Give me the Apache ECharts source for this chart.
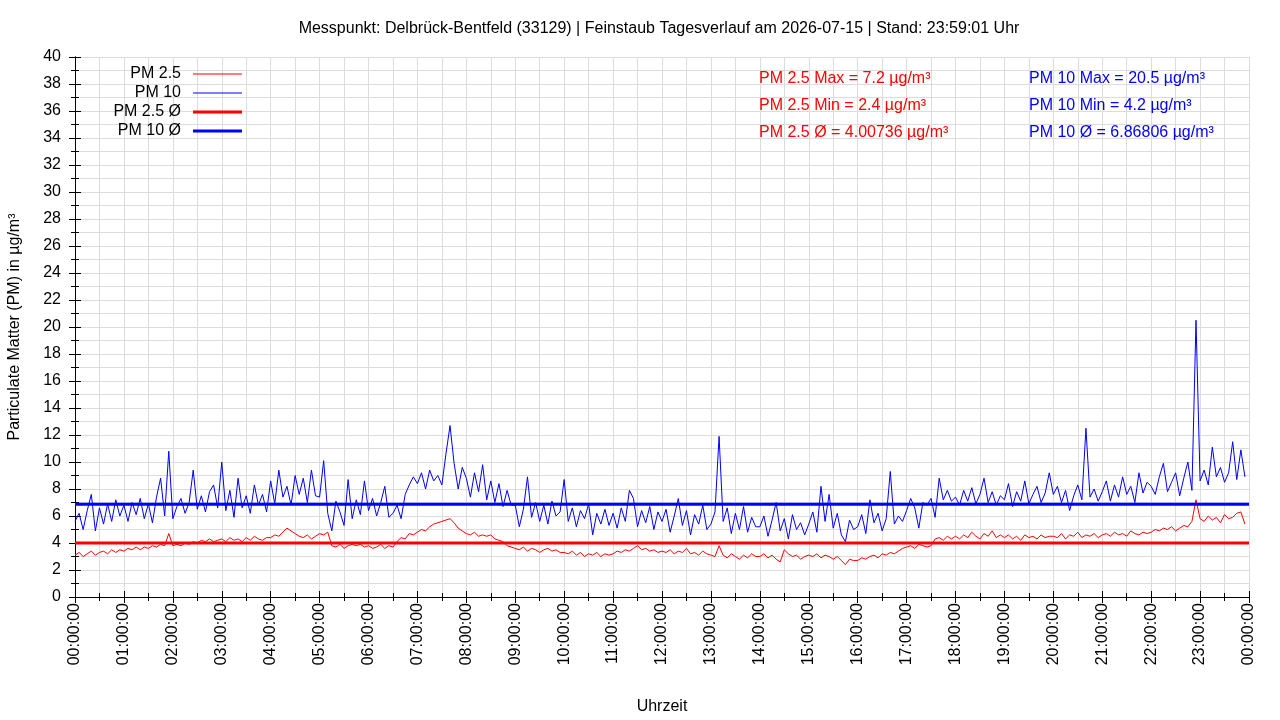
<!DOCTYPE html>
<html lang="de" style="height: 100%">
<head>
    <meta charset="UTF-8" />
    <title>Feinstaub Tagesverlauf</title>
    <style>
        html, body { margin: 0; padding: 0; background: #fff; }
        #container { width: 1280px; height: 720px; }
    </style>
</head>
<body>
    <div id="container"></div>
    <script src="https://cdn.jsdelivr.net/npm/echarts@6/dist/echarts.min.js"></script>
    <script type="text/javascript">
        // Messwerte im 5-Minuten-Raster, eine Zeile pro Stunde (00:00 ... 23:55)
        var pm25 = [
            3.1, 3.3, 3.0, 3.2, 3.4, 3.1, 3.3, 3.4, 3.2, 3.5, 3.3, 3.5,
            3.4, 3.6, 3.5, 3.7, 3.5, 3.7, 3.6, 3.8, 3.7, 3.9, 3.8, 4.7,
            3.8, 3.9, 3.8, 4.0, 3.9, 4.1, 4.0, 4.2, 4.1, 4.3, 4.1, 4.2,
            4.3, 4.1, 4.4, 4.2, 4.3, 4.1, 4.4, 4.2, 4.5, 4.3, 4.2, 4.4,
            4.4, 4.6, 4.5, 4.8, 5.1, 4.9, 4.7, 4.5, 4.4, 4.6, 4.3, 4.5,
            4.7, 4.6, 4.8, 3.8, 3.7, 3.9, 3.6, 3.8, 3.9, 3.8, 3.9, 3.7,
            3.8, 3.6, 3.7, 3.9, 3.6, 3.8, 3.7, 4.1, 4.4, 4.3, 4.7, 4.6,
            4.8, 5.0, 4.9, 5.2, 5.4, 5.5, 5.6, 5.7, 5.8, 5.5, 5.1, 4.9,
            4.7, 4.6, 4.8, 4.5, 4.6, 4.5, 4.6, 4.3, 4.2, 4.1, 3.8, 3.7,
            3.6, 3.5, 3.7, 3.4, 3.6, 3.5, 3.3, 3.5, 3.6, 3.4, 3.5, 3.3,
            3.3, 3.2, 3.4, 3.1, 3.3, 3.0, 3.2, 3.1, 3.3, 3.0, 3.2, 3.1,
            3.2, 3.4, 3.3, 3.5, 3.4, 3.6, 3.8, 3.5, 3.6, 3.4, 3.5, 3.3,
            3.4, 3.3, 3.5, 3.2, 3.4, 3.3, 3.6, 3.2, 3.3, 3.1, 3.4, 3.2,
            3.1, 3.0, 3.8, 3.1, 2.9, 3.2, 3.0, 2.8, 3.1, 2.9, 3.2, 3.0,
            3.0, 3.2, 2.9, 3.1, 2.8, 2.6, 3.5, 3.2, 3.0, 3.1, 2.8, 3.0,
            3.1, 3.0, 3.2, 2.9, 3.1, 3.0, 2.8, 3.0, 2.7, 2.4, 2.8, 2.7,
            2.7, 2.9, 2.8, 3.0, 3.1, 2.9, 3.2, 3.1, 3.3, 3.2, 3.4, 3.6,
            3.7, 3.8, 3.6, 3.9, 3.8, 3.7, 3.8, 4.3, 4.4, 4.2, 4.5, 4.3,
            4.5, 4.3, 4.6, 4.4, 4.8, 4.5, 4.3, 4.7, 4.5, 4.9, 4.4, 4.6,
            4.4, 4.6, 4.3, 4.5, 4.2, 4.6, 4.4, 4.5, 4.3, 4.6, 4.4, 4.5,
            4.5, 4.4, 4.7, 4.3, 4.6, 4.5, 4.8, 4.4, 4.6, 4.5, 4.7, 4.4,
            4.6, 4.7, 4.5, 4.8, 4.6, 4.7, 4.5, 4.9, 4.7, 4.6, 4.8, 4.7,
            4.8, 5.0, 4.9, 5.1, 5.0, 5.2, 4.9, 5.1, 5.3, 5.2, 5.6, 7.2,
            5.8, 5.6, 6.0, 5.7, 5.9, 5.5, 6.1, 5.8, 5.9, 6.2, 6.3, 5.4
        ];
        var pm10 = [
            5.6, 6.2, 5.0, 6.4, 7.6, 4.9, 6.6, 5.4, 6.9, 5.6, 7.2, 6.0,
            6.8, 5.6, 7.0, 6.1, 7.3, 5.8, 6.9, 5.5, 7.4, 8.8, 6.0, 10.8,
            5.8, 6.7, 7.3, 6.2, 7.0, 9.4, 6.5, 7.5, 6.3, 7.8, 8.3, 6.6,
            10.0, 6.4, 7.9, 5.9, 8.8, 6.6, 7.5, 6.2, 8.3, 6.8, 7.6, 6.3,
            8.6, 6.9, 9.4, 7.4, 8.2, 6.8, 9.0, 7.6, 8.8, 7.0, 9.4, 7.5,
            7.4, 10.1, 6.2, 4.9, 7.1, 6.3, 5.3, 8.7, 5.8, 7.2, 6.1, 8.6,
            6.4, 7.3, 6.0, 7.0, 8.2, 5.9, 6.2, 6.8, 5.8, 7.6, 8.3, 8.9,
            8.4, 9.2, 8.0, 9.4, 8.6, 9.0, 8.3, 10.6, 12.7, 9.9, 8.0, 9.6,
            8.8, 7.4, 9.2, 7.8, 9.8, 7.2, 8.6, 7.0, 8.4, 6.7, 7.9, 6.8,
            6.8, 5.2, 6.5, 8.9, 5.9, 7.0, 5.6, 6.8, 5.4, 7.1, 6.0, 6.3,
            8.7, 5.6, 6.6, 5.2, 6.4, 5.8, 6.9, 4.6, 6.2, 5.4, 6.5, 5.3,
            6.2, 5.1, 6.6, 5.6, 7.9, 7.3, 5.2, 6.4, 5.5, 6.7, 5.0, 6.3,
            5.6, 6.5, 4.8, 6.0, 7.3, 5.3, 6.4, 4.6, 6.1, 5.4, 6.8, 5.0,
            5.4, 6.3, 11.9, 5.6, 6.6, 4.7, 6.2, 5.0, 6.7, 4.8, 5.9, 5.2,
            5.2, 6.0, 4.5, 5.7, 7.0, 4.9, 5.8, 4.3, 6.1, 5.0, 5.5, 4.6,
            5.4, 6.3, 4.8, 8.2, 5.6, 7.6, 5.1, 6.2, 4.6, 4.1, 5.7, 5.0,
            5.2, 6.1, 4.7, 7.2, 5.5, 6.2, 4.9, 5.8, 9.3, 5.4, 6.0, 5.6,
            6.4, 7.3, 6.6, 5.1, 7.0, 6.8, 7.3, 5.9, 8.8, 7.2, 7.9, 7.1,
            7.4, 6.8, 7.9, 7.1, 8.1, 6.9, 7.6, 8.8, 7.0, 7.8, 6.8, 7.5,
            7.2, 8.4, 6.7, 7.8, 7.1, 8.6, 6.9, 7.6, 8.2, 7.0, 7.7, 9.2,
            7.6, 8.2, 7.0, 7.9, 6.4, 7.5, 8.3, 7.2, 12.5, 7.4, 8.0, 7.1,
            7.8, 8.6, 7.1, 8.3, 7.4, 8.9, 7.6, 8.2, 7.0, 9.2, 7.7, 8.5,
            8.2, 7.6, 8.9, 9.9, 7.8, 8.5, 9.2, 7.5, 8.8, 10.0, 7.9, 20.5,
            8.6, 9.4, 8.3, 11.1, 8.9, 9.6, 8.5, 9.2, 11.5, 8.7, 10.9, 8.9
        ];
        var stepMinutes = 5;
        var pm25Mean = 4.00736;
        var pm10Mean = 6.86806;
        var hourLabels = [];
        for (var h = 0; h <= 24; h++) {
            hourLabels.push((h % 24 < 10 ? '0' : '') + (h % 24) + ':00:00');
        }
        var statsRed = ['PM 2.5 Max = 7.2 µg/m³', 'PM 2.5 Min = 2.4 µg/m³', 'PM 2.5 Ø = 4.00736 µg/m³'];
        var statsBlue = ['PM 10 Max = 20.5 µg/m³', 'PM 10 Min = 4.2 µg/m³', 'PM 10 Ø = 6.86806 µg/m³'];

        var FONT = '"Liberation Sans", Arial, sans-serif';
        var RED = '#ff0000';
        var BLUE = '#0000ff';

        function toPairs(arr) {
            return arr.map(function (v, i) { return [i * stepMinutes, v]; });
        }

        var dom = document.getElementById('container');
        var myChart = echarts.init(dom, null, { renderer: 'canvas' });

        var gridColor = '#dcdcdc';
        var baseAxis = {
            axisLine: { show: true, lineStyle: { color: '#000', width: 1 } },
            axisTick: { show: true, inside: true, length: 6, lineStyle: { color: '#000' } },
            minorTick: { show: true, splitNumber: 2, length: 4, lineStyle: { color: '#000' } },
            splitLine: { show: true, lineStyle: { color: gridColor, width: 1 } },
            minorSplitLine: { show: true, lineStyle: { color: gridColor, width: 1 } }
        };

        // eine Legende pro Eintrag, damit die Texte rechtsbündig vor den Linien stehen
        function legendFor(name, color, centerY, thick) {
            var h = thick ? 3 : 1;
            return {
                data: [{ name: name, icon: 'rect', itemStyle: { color: color, borderWidth: 0 } }],
                right: 1280 - 242,
                top: centerY - 7,
                align: 'right',
                padding: 0,
                itemWidth: 49,
                itemHeight: h,
                selectedMode: false,
                textStyle: { fontSize: 16, fontFamily: FONT, color: '#000', padding: [0, 7, 0, 0] }
            };
        }

        var graphics = [];
        statsRed.forEach(function (t, i) {
            graphics.push({ type: 'text', left: 759, top: 71 + i * 27, z: 100,
                style: { text: t, fill: RED, font: '16px ' + FONT } });
        });
        statsBlue.forEach(function (t, i) {
            graphics.push({ type: 'text', left: 1029, top: 71 + i * 27, z: 100,
                style: { text: t, fill: BLUE, font: '16px ' + FONT } });
        });

        var option = {
            animation: false,
            backgroundColor: '#fff',
            title: {
                text: 'Messpunkt: Delbrück-Bentfeld (33129) | Feinstaub Tagesverlauf am 2026-07-15 | Stand: 23:59:01 Uhr',
                left: 659,
                top: 21,
                textAlign: 'center',
                padding: 0,
                textStyle: { fontSize: 16, fontWeight: 'normal', fontFamily: FONT, color: '#000' }
            },
            legend: [
                legendFor('PM 2.5', RED, 73, false),
                legendFor('PM 10', BLUE, 92, false),
                legendFor('PM 2.5 Ø', RED, 111, true),
                legendFor('PM 10 Ø', BLUE, 130, true)
            ],
            grid: { left: 75, right: 31, top: 57, bottom: 123, containLabel: false, outerBoundsMode: 'none' },
            xAxis: [
                Object.assign({}, baseAxis, {
                    type: 'value', min: 0, max: 1440, interval: 60,
                    name: 'Uhrzeit', nameLocation: 'middle', nameGap: 102,
                    nameTextStyle: { fontSize: 16, fontFamily: FONT, color: '#000' },
                    axisLabel: {
                        rotate: 90, margin: 6, fontSize: 16, fontFamily: FONT, color: '#000',
                        formatter: function (v) { return hourLabels[Math.round(v / 60)]; }
                    }
                }),
                Object.assign({}, baseAxis, {
                    type: 'value', min: 0, max: 1440, interval: 60, position: 'top',
                    axisLabel: { show: false }, splitLine: { show: false }, minorSplitLine: { show: false }
                })
            ],
            yAxis: [
                Object.assign({}, baseAxis, {
                    type: 'value', min: 0, max: 40, interval: 2,
                    name: 'Particulate Matter (PM) in µg/m³', nameLocation: 'middle', nameGap: 52,
                    nameTextStyle: { fontSize: 16, fontFamily: FONT, color: '#000' },
                    axisLabel: { margin: 14, fontSize: 16, fontFamily: FONT, color: '#000' }
                }),
                Object.assign({}, baseAxis, {
                    type: 'value', min: 0, max: 40, interval: 2, position: 'right',
                    axisLabel: { show: false }, splitLine: { show: false }, minorSplitLine: { show: false }
                })
            ],
            graphic: graphics,
            series: [
                {
                    name: 'PM 10', type: 'line', data: toPairs(pm10), symbol: 'none', color: BLUE,
                    lineStyle: { color: BLUE, width: 1 }
                },
                {
                    name: 'PM 2.5', type: 'line', data: toPairs(pm25), symbol: 'none', color: RED,
                    lineStyle: { color: RED, width: 1 }
                },
                {
                    name: 'PM 2.5 Ø', type: 'line', data: [[0, pm25Mean], [1440, pm25Mean]], symbol: 'none', color: RED,
                    lineStyle: { color: RED, width: 3 }
                },
                {
                    name: 'PM 10 Ø', type: 'line', data: [[0, pm10Mean], [1440, pm10Mean]], symbol: 'none', color: BLUE,
                    lineStyle: { color: BLUE, width: 3 }
                }
            ]
        };
        myChart.setOption(option, true);
    </script>
</body>
</html>
